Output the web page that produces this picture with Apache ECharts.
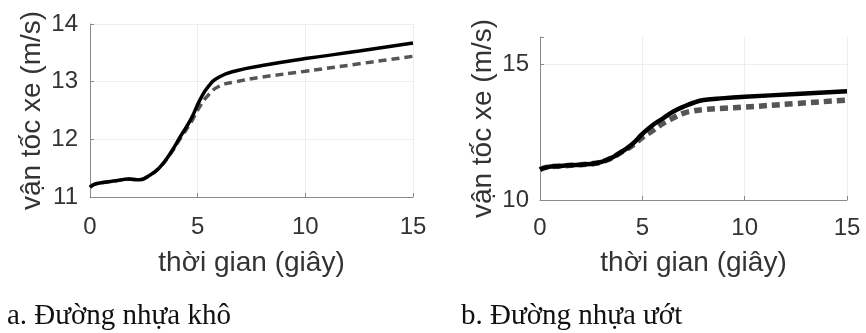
<!DOCTYPE html>
<html>
<head>
<meta charset="utf-8">
<script src="https://cdn.jsdelivr.net/npm/echarts@6/dist/echarts.min.js"></script>
<style>
  html, body { margin: 0; padding: 0; background: #fff; }
  #main { width: 866px; height: 333px; }
</style>
</head>
<body>
<div id="main"></div>
<script>
// a. dry asphalt
const timeA = [0, 0.2, 0.6, 1.2, 1.8, 2.3, 2.7, 3.2, 3.7, 4.2, 4.7, 5.1, 5.5, 6.0, 6.8, 8.0, 10.0, 12.5, 15];
const solidA = [11.17, 11.22, 11.25, 11.28, 11.31, 11.30, 11.36, 11.50, 11.74, 12.05, 12.36, 12.68, 12.92, 13.08, 13.19, 13.28, 13.40, 13.53, 13.67];
const dashedA = [11.17, 11.22, 11.25, 11.28, 11.31, 11.30, 11.36, 11.50, 11.73, 12.02, 12.30, 12.57, 12.77, 12.92, 13.00, 13.08, 13.18, 13.31, 13.44];
// b. wet asphalt
const timeB = [0, 0.3, 1, 2, 2.7, 3.3, 4, 4.5, 5, 5.5, 6, 6.5, 7, 7.5, 8, 9, 10, 12.5, 15];
const solidB = [11.12, 11.20, 11.25, 11.30, 11.35, 11.48, 11.78, 12.05, 12.43, 12.75, 13.00, 13.25, 13.43, 13.58, 13.68, 13.75, 13.80, 13.90, 14.00];
const dashedB = [11.12, 11.20, 11.25, 11.30, 11.35, 11.48, 11.77, 12.00, 12.30, 12.55, 12.82, 13.02, 13.19, 13.28, 13.33, 13.38, 13.42, 13.55, 13.68];

const xTicks = [0, 5, 10, 15];
const yTicksA = [11, 12, 13, 14];
const yTicksB = [10, 15];
const captions = ['a. Đường nhựa khô', 'b. Đường nhựa ướt'];
const xName = 'thời gian (giây)';
const yName = 'vận tốc xe (m/s)';

const pairs = (t, v) => t.map((x, i) => [x, v[i]]);

const font = "'Liberation Sans', Arial, sans-serif";
const serif = "'Liberation Serif', 'Times New Roman', serif";
const axisColor = '#8a8a8a';
const gridColor = '#ededed';

const xAxisCfg = (gridIndex, nameGap, labelMargin) => ({
    type: 'value',
    gridIndex: gridIndex,
    min: xTicks[0],
    max: xTicks[xTicks.length - 1],
    interval: 5,
    name: xName,
    nameLocation: 'middle',
    nameGap: nameGap,
    nameTextStyle: { fontSize: 28, color: '#333', fontFamily: font },
    axisLine: { lineStyle: { color: axisColor, width: 1 } },
    axisTick: { inside: true, length: 4, lineStyle: { color: axisColor } },
    axisLabel: { fontSize: 24, color: '#333', fontFamily: font, margin: labelMargin },
    splitLine: { show: true, showMinLine: false, lineStyle: { color: gridColor } }
});

const yAxisCfg = (gridIndex, ticks, max, nameGap, labelMargin) => ({
    type: 'value',
    gridIndex: gridIndex,
    min: ticks[0],
    max: max,
    interval: ticks[1] - ticks[0],
    name: yName,
    nameLocation: 'middle',
    nameRotate: 90,
    nameGap: nameGap,
    nameTextStyle: { fontSize: 28, color: '#333', fontFamily: font },
    axisLine: { show: true, lineStyle: { color: axisColor, width: 1 } },
    axisTick: { show: true, inside: true, length: 4, lineStyle: { color: axisColor } },
    axisLabel: {
        fontSize: 24, color: '#333', fontFamily: font, margin: labelMargin,
        formatter: (v) => (ticks.indexOf(v) >= 0 ? String(v) : '')
    },
    splitLine: { show: true, showMinLine: false, showMaxLine: ticks[ticks.length - 1] === max, lineStyle: { color: gridColor } }
});

const lineSeries = (name, data, idx, color, width, dash) => ({
    name: name,
    type: 'line',
    xAxisIndex: idx,
    yAxisIndex: idx,
    data: data,
    smooth: 0.5,
    showSymbol: false,
    lineStyle: { color: color, width: width, type: dash || 'solid', cap: 'butt' },
    z: dash ? 2 : 3
});

const myChart = echarts.init(document.getElementById('main'), null, { renderer: 'canvas' });
const option = {
    backgroundColor: '#fff',
    animation: false,
    title: [
        { text: captions[0], left: 2, top: 297, textStyle: { fontFamily: serif, fontSize: 29, fontWeight: 'normal', color: '#111' } },
        { text: captions[1], left: 456, top: 297, textStyle: { fontFamily: serif, fontSize: 29, fontWeight: 'normal', color: '#111' } }
    ],
    grid: [
        { left: 90, top: 24, width: 323, height: 173 },
        { left: 540, top: 37, width: 307, height: 163 }
    ],
    xAxis: [xAxisCfg(0, 52, 18), xAxisCfg(1, 49, 16)],
    yAxis: [yAxisCfg(0, yTicksA, 14, 44, 12), yAxisCfg(1, yTicksB, 16, 43, 11)],
    series: [
        lineSeries('dashedA', pairs(timeA, dashedA), 0, '#555555', 3.5, [8, 5]),
        lineSeries('solidA', pairs(timeA, solidA), 0, '#000000', 3.5),
        lineSeries('dashedB', pairs(timeB, dashedB), 1, '#555555', 5.5, [8, 5]),
        lineSeries('solidB', pairs(timeB, solidB), 1, '#000000', 4.5)
    ]
};
option && myChart.setOption(option);
</script>
</body>
</html>
